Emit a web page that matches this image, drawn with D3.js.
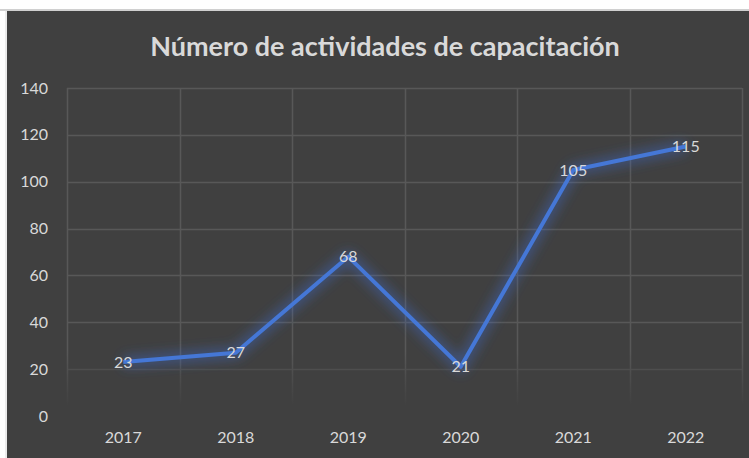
<!DOCTYPE html>
<html>
<head>
<meta charset="utf-8">
<script src="https://cdn.jsdelivr.net/npm/d3@7"></script>
<style>
  html, body { margin: 0; padding: 0; background: #ffffff; }
  svg { display: block; }
</style>
</head>
<body>
<div class="mainView"></div>
<script>
// chart data
let years = ["2017", "2018", "2019", "2020", "2021", "2022"];
let activities = [23, 27, 68, 21, 105, 115];
let yTicks = [0, 20, 40, 60, 80, 100, 120, 140];
let titleText = "Número de actividades de capacitación";

function chartConfiguration(){
    let width = 749;
    let height = 458;
    let margin = { top: 88, bottom: 42, left: 67, right: 7 };
    let bodyWidth = width - margin.left - margin.right;
    let bodyHeight = height - margin.top - margin.bottom;
    let svg = d3.select(".mainView")
        .append("svg")
        .attr("width", width)
        .attr("height", height);
    return { width, height, margin, bodyWidth, bodyHeight, svg };
}

function chartScales(config){
    let { bodyWidth, bodyHeight } = config;
    let xScale = d3.scaleBand()
        .domain(years)
        .range([0, bodyWidth]);
    let yScale = d3.scaleLinear()
        .domain([0, 140])
        .range([bodyHeight, 0]);
    return { xScale, yScale };
}

function drawChart(){
    let config = chartConfiguration();
    let { svg, margin, width, height, bodyWidth, bodyHeight } = config;
    let { xScale, yScale } = chartScales(config);

    // outer frame: white strip on top / left, dark chart area
    svg.append("rect")
        .attr("x", 7).attr("y", 11)
        .attr("width", width - 7).attr("height", height - 11)
        .style("fill", "#404040");
    svg.append("line")
        .attr("x1", 0).attr("x2", width)
        .attr("y1", 10).attr("y2", 10)
        .style("stroke", "#d0d0d0").style("stroke-width", 2);
    svg.append("line")
        .attr("x1", 6).attr("x2", 6)
        .attr("y1", 10).attr("y2", height)
        .style("stroke", "#d8d8d8").style("stroke-width", 1);

    let defs = svg.append("defs");
    let fade = defs.append("linearGradient")
        .attr("id", "vfade")
        .attr("gradientUnits", "userSpaceOnUse")
        .attr("x1", 0).attr("x2", 0)
        .attr("y1", 0).attr("y2", bodyHeight);
    fade.append("stop").attr("offset", "0.8").attr("stop-color", "#585858");
    fade.append("stop").attr("offset", "0.97").attr("stop-color", "#404040");

    let glow = defs.append("filter")
        .attr("id", "glow")
        .attr("x", "-20%").attr("y", "-30%")
        .attr("width", "140%").attr("height", "160%");
    glow.append("feGaussianBlur")
        .attr("in", "SourceGraphic")
        .attr("stdDeviation", 6);

    // title
    svg.append("text")
        .attr("x", 385)
        .attr("y", 56)
        .attr("text-anchor", "middle")
        .style("font-family", "Lato, 'Open Sans', sans-serif")
        .style("font-weight", "bold")
        .style("font-size", "27px")
        .style("fill", "#d9d9d9")
        .text(titleText);

    let container = svg.append("g")
        .attr("transform", "translate(" + [margin.left, margin.top] + ")");

    // gridlines
    yTicks.filter(t => t > 0).forEach(t => {
        container.append("line")
            .attr("x1", 0).attr("x2", bodyWidth)
            .attr("y1", Math.round(yScale(t)) + 0.5)
            .attr("y2", Math.round(yScale(t)) + 0.5)
            .style("stroke", t === 20 ? "#4e4e4e" : "#585858")
            .style("stroke-width", 1.5);
    });
    let bounds = years.map(y => xScale(y)).concat([bodyWidth]);
    bounds.forEach(x => {
        container.append("line")
            .attr("x1", Math.round(x) + 0.5).attr("x2", Math.round(x) + 0.5)
            .attr("y1", 0).attr("y2", bodyHeight)
            .style("stroke", "url(#vfade)")
            .style("stroke-width", 1.5);
    });

    // y axis labels
    let axisY = d3.axisLeft(yScale).tickValues(yTicks).tickSize(0).tickPadding(19);
    let gy = container.append("g").call(axisY);
    gy.select(".domain").remove();
    gy.selectAll("text")
        .style("font-family", "Lato, 'Open Sans', sans-serif")
        .style("font-size", "16px")
        .style("fill", "#d9d9d9");

    // x axis labels
    let axisX = d3.axisBottom(xScale).tickSize(0).tickPadding(16);
    let gx = container.append("g")
        .attr("transform", "translate(0," + bodyHeight + ")")
        .call(axisX);
    gx.select(".domain").remove();
    gx.selectAll("text")
        .style("font-family", "Lato, 'Open Sans', sans-serif")
        .style("font-size", "16px")
        .style("fill", "#d9d9d9");

    let data = years.map((y, i) => ({ year: y, value: activities[i] }));
    let line = d3.line()
        .x(d => xScale(d.year) + xScale.bandwidth() / 2)
        .y(d => yScale(d.value));

    // glow under the line
    container.append("path")
        .datum(data)
        .attr("d", line)
        .style("fill", "none")
        .style("stroke", "#3b6fd6")
        .style("stroke-width", 12)
        .style("stroke-opacity", 0.4)
        .style("stroke-linejoin", "round")
        .attr("filter", "url(#glow)");

    container.append("path")
        .datum(data)
        .attr("d", line)
        .style("fill", "none")
        .style("stroke", "#4577d6")
        .style("stroke-width", 4)
        .style("stroke-linejoin", "round");

    // data labels
    container.selectAll(".dlabel")
        .data(data)
        .enter()
        .append("text")
        .attr("class", "dlabel")
        .attr("x", d => xScale(d.year) + xScale.bandwidth() / 2)
        .attr("y", d => yScale(d.value))
        .attr("dy", "0.35em")
        .attr("text-anchor", "middle")
        .style("font-family", "Lato, 'Open Sans', sans-serif")
        .style("font-size", "16px")
        .style("fill", "#d9d9d9")
        .text(d => d.value);
}

drawChart();
</script>
</body>
</html>
